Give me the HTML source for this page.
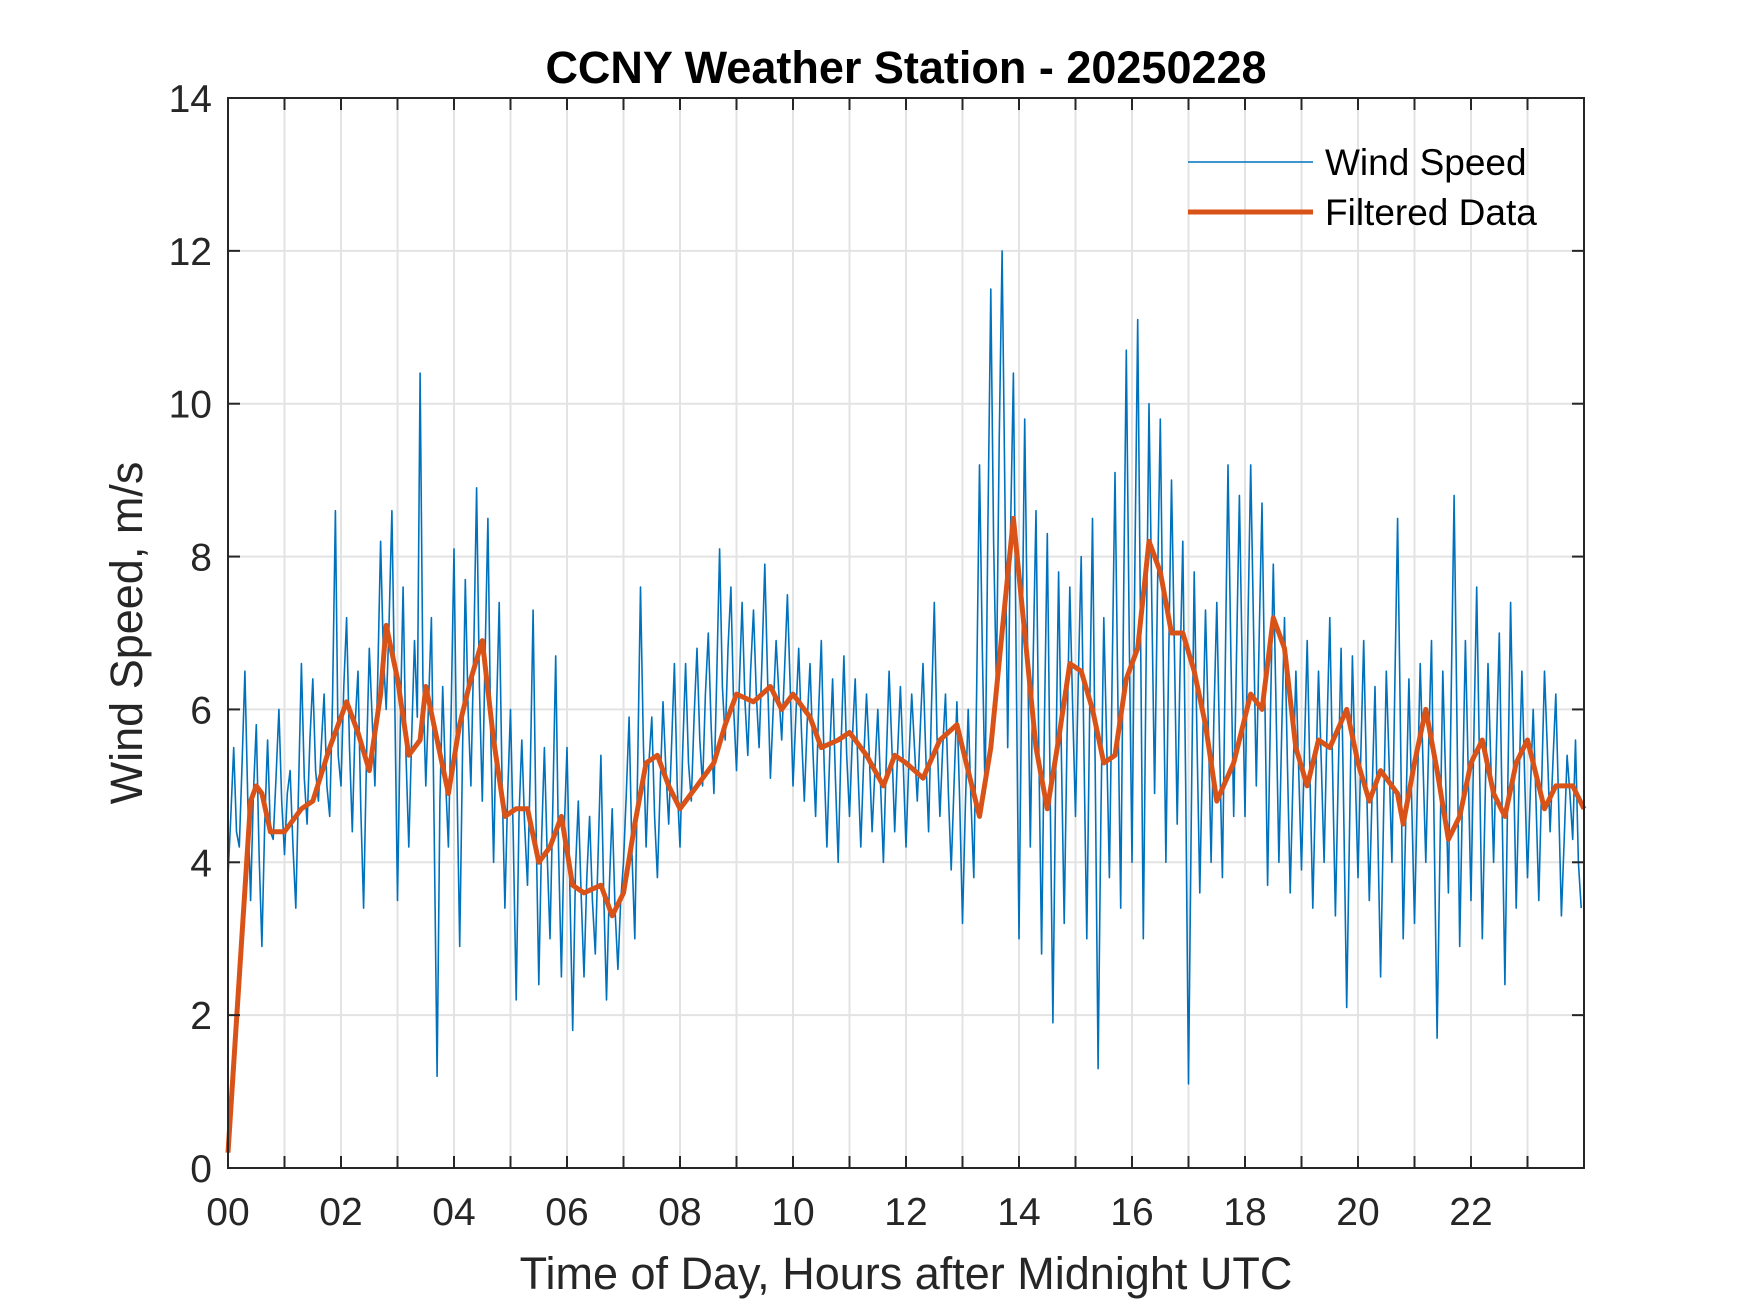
<!DOCTYPE html>
<html><head><meta charset="utf-8"><style>
html,body{margin:0;padding:0;background:#fff;}
svg{display:block;font-family:"Liberation Sans",Arial,sans-serif;}
</style></head><body>
<svg id="chart" width="1750" height="1313" viewBox="0 0 1750 1313" xmlns="http://www.w3.org/2000/svg">
<rect width="1750" height="1313" fill="#fff"/>
<g id="grid"></g>
<g id="series"></g>
<g id="axes"></g>
<text x="906" y="83" text-anchor="middle" font-size="45" font-weight="bold" fill="#000">CCNY Weather Station - 20250228</text>
<text x="906" y="1289" text-anchor="middle" font-size="45" fill="#262626">Time of Day, Hours after Midnight UTC</text>
<text transform="translate(142,633) rotate(-90)" text-anchor="middle" font-size="45" fill="#262626">Wind Speed, m/s</text>
<g>
<line x1="1188" y1="162" x2="1313" y2="162" stroke="#0072BD" stroke-width="1.5"/>
<text x="1325" y="175" font-size="37" fill="#000">Wind Speed</text>
<line x1="1188" y1="212" x2="1313" y2="212" stroke="#D95319" stroke-width="5"/>
<text x="1325" y="225" font-size="37" fill="#000">Filtered Data</text>
</g>
</svg>
<script>
const xTickLabels = ["00","02","04","06","08","10","12","14","16","18","20","22"];
const yTickValues = [0,2,4,6,8,10,12,14];
const rawStep = 0.05;
const rawValues = [
3.8,4.6,5.5,4.4,4.2,5.3,6.5,4.8,3.5,4.9,5.8,4.1,2.9,4.5,5.6,4.4,4.3,5.1,6.0,4.8,
4.1,4.9,5.2,4.2,3.4,5.0,6.6,5.1,4.5,5.6,6.4,5.2,4.8,5.5,6.2,5.0,4.6,6.1,8.6,5.4,
5.0,6.3,7.2,5.5,4.4,5.8,6.5,4.7,3.4,5.3,6.8,5.9,5.0,6.4,8.2,6.7,6.0,7.1,8.6,6.2,
3.5,5.8,7.6,5.4,4.2,5.6,6.9,5.9,10.4,6.4,5.0,6.1,7.2,4.4,1.2,4.8,6.3,5.1,4.2,6.0,
8.1,5.2,2.9,5.4,7.7,6.0,5.0,6.8,8.9,6.3,4.8,6.7,8.5,5.7,4.0,5.9,7.4,5.1,3.4,4.9,
6.0,4.3,2.2,4.6,5.6,4.5,3.7,5.2,7.3,4.6,2.4,4.3,5.5,4.1,3.0,4.8,6.7,4.2,2.5,4.4,
5.5,3.7,1.8,3.9,4.8,3.6,2.5,3.8,4.6,3.5,2.8,4.1,5.4,3.6,2.2,3.7,4.7,3.4,2.6,3.5,
4.0,4.9,5.9,4.1,3.0,5.2,7.6,5.6,4.2,5.3,5.9,4.6,3.8,5.0,6.1,5.2,4.5,5.5,6.6,5.0,
4.2,5.5,6.6,5.3,4.8,5.9,6.8,5.6,5.0,6.2,7.0,5.8,4.9,6.4,8.1,6.3,5.6,6.8,7.6,6.0,
5.2,6.3,7.4,6.1,5.4,6.5,7.3,6.2,5.5,6.6,7.9,6.4,5.1,6.0,6.9,6.2,5.6,6.5,7.5,6.3,
5.0,5.9,6.8,5.7,4.8,5.8,6.6,5.5,4.6,5.9,6.9,5.3,4.2,5.4,6.4,5.1,4.0,5.5,6.7,5.4,
4.6,5.6,6.4,5.2,4.2,5.3,6.2,5.4,4.4,5.2,6.0,5.0,4.0,5.3,6.5,5.5,4.4,5.4,6.3,5.3,
4.2,5.3,6.2,5.5,4.8,5.7,6.6,5.4,4.4,6.0,7.4,5.6,4.6,5.5,6.2,4.9,3.9,5.0,6.1,4.8,
3.2,4.7,6.0,4.8,3.8,6.2,9.2,6.8,4.9,8.4,11.5,8.2,6.3,9.5,12.0,8.8,5.5,8.3,10.4,6.6,
3.0,6.5,9.8,6.9,4.2,6.6,8.6,5.5,2.8,5.8,8.3,5.0,1.9,5.1,7.8,5.4,3.2,5.6,7.6,6.0,
4.6,6.4,8.0,5.4,3.0,5.9,8.5,5.1,1.3,4.6,7.2,5.6,3.8,6.5,9.1,6.1,3.4,7.3,10.7,7.0,
4.0,7.8,11.1,7.1,3.0,6.6,10.0,7.4,4.9,7.5,9.8,6.8,4.0,6.7,9.0,6.8,4.5,6.5,8.2,5.0,
1.1,4.6,7.8,5.6,3.6,5.5,7.3,5.8,4.0,5.9,7.4,5.5,3.8,6.5,9.2,6.7,4.6,6.7,8.8,6.6,
4.6,7.0,9.2,7.1,5.0,6.9,8.7,6.2,3.7,5.9,7.9,6.0,4.0,5.7,7.2,5.3,3.6,5.1,6.5,5.2,
3.9,5.4,6.9,5.1,3.4,5.0,6.5,5.3,4.0,5.7,7.2,5.2,3.3,5.1,6.8,4.5,2.1,4.4,6.7,5.2,
3.8,5.4,6.9,5.1,3.5,4.9,6.3,4.4,2.5,4.5,6.5,5.3,4.0,6.2,8.5,5.8,3.0,4.7,6.4,4.8,
3.2,4.9,6.6,5.3,4.0,5.5,6.9,4.3,1.7,4.1,6.5,5.1,3.6,6.2,8.8,5.9,2.9,4.9,6.9,5.2,
3.5,5.6,7.6,5.3,3.0,4.8,6.6,5.3,4.0,5.5,7.0,4.7,2.4,4.9,7.4,5.4,3.4,5.0,6.5,5.1,
3.8,4.9,6.0,4.8,3.5,5.0,6.5,5.5,4.4,5.3,6.2,4.8,3.3,4.3,5.4,4.9,4.3,5.6,4.0,3.4];
const filtTimes = [0,0.2,0.4,0.5,0.6,0.75,1,1.3,1.5,1.8,2,2.1,2.3,2.5,2.7,2.8,3,3.2,3.4,3.5,3.7,3.9,4.1,4.3,4.5,4.7,4.9,5.1,5.3,5.5,5.7,5.9,6.1,6.3,6.6,6.8,7.0,7.2,7.4,7.6,7.8,8,8.3,8.6,8.8,9,9.3,9.6,9.8,10,10.3,10.5,10.8,11,11.3,11.6,11.8,12,12.3,12.6,12.9,13.1,13.3,13.5,13.7,13.9,14.1,14.3,14.5,14.7,14.9,15.1,15.3,15.5,15.7,15.9,16.1,16.3,16.5,16.7,16.9,17.1,17.3,17.5,17.8,18.1,18.3,18.5,18.7,18.9,19.1,19.3,19.5,19.8,20,20.2,20.4,20.7,20.8,21,21.2,21.4,21.6,21.8,22,22.2,22.4,22.6,22.8,23,23.3,23.5,23.8,24];
const filtValues = [0.2,2.5,4.8,5.0,4.9,4.4,4.4,4.7,4.8,5.5,5.9,6.1,5.7,5.2,6.2,7.1,6.4,5.4,5.6,6.3,5.6,4.9,5.8,6.4,6.9,5.6,4.6,4.7,4.7,4.0,4.2,4.6,3.7,3.6,3.7,3.3,3.6,4.5,5.3,5.4,5.0,4.7,5.0,5.3,5.8,6.2,6.1,6.3,6.0,6.2,5.9,5.5,5.6,5.7,5.4,5.0,5.4,5.3,5.1,5.6,5.8,5.2,4.6,5.5,7.0,8.5,7.0,5.5,4.7,5.6,6.6,6.5,6.0,5.3,5.4,6.4,6.8,8.2,7.8,7.0,7.0,6.5,5.8,4.8,5.3,6.2,6.0,7.2,6.8,5.5,5.0,5.6,5.5,6.0,5.3,4.8,5.2,4.9,4.5,5.3,6.0,5.2,4.3,4.6,5.3,5.6,4.9,4.6,5.3,5.6,4.7,5.0,5.0,4.7];

const L=228,R=1584,T=98,B=1168,XMAX=24,YMAX=14;
const xs=t=>L+(t/XMAX)*(R-L);
const ys=v=>B-(v/YMAX)*(B-T);
const NS="http://www.w3.org/2000/svg";
function mk(tag,parent){const e=document.createElementNS(NS,tag);parent.appendChild(e);return e;}
const grid=document.getElementById('grid'),axes=document.getElementById('axes'),series=document.getElementById('series');

for(let h=1;h<24;h++){
  const g=mk('line',grid);
  
  
  g.setAttribute('x1',xs(h));g.setAttribute('x2',xs(h));g.setAttribute('y1',T);g.setAttribute('y2',B);
  g.setAttribute('stroke','#e3e3e3');g.setAttribute('stroke-width','2');
  for(const [y0,y1] of [[B,B-12],[T,T+12]]){
    const tk=mk('line',axes);
    
    
    tk.setAttribute('x1',xs(h));tk.setAttribute('x2',xs(h));tk.setAttribute('y1',y0);tk.setAttribute('y2',y1);
    tk.setAttribute('stroke','#262626');tk.setAttribute('stroke-width','2');
  }
}
yTickValues.forEach(v=>{
  if(v>0&&v<YMAX){
    const g=mk('line',grid);
    
    
    g.setAttribute('x1',L);g.setAttribute('x2',R);g.setAttribute('y1',ys(v));g.setAttribute('y2',ys(v));
    g.setAttribute('stroke','#e3e3e3');g.setAttribute('stroke-width','2');
    for(const [x0,x1] of [[L,L+12],[R,R-12]]){
      const tk=mk('line',axes);
      
      
      tk.setAttribute('x1',x0);tk.setAttribute('x2',x1);tk.setAttribute('y1',ys(v));tk.setAttribute('y2',ys(v));
      tk.setAttribute('stroke','#262626');tk.setAttribute('stroke-width','2');
    }
  }
  const t=mk('text',axes);
  
  
  t.setAttribute('x',L-16);t.setAttribute('y',ys(v)+14);t.setAttribute('text-anchor','end');
  t.setAttribute('font-size','39');t.setAttribute('fill','#262626');t.textContent=v;
});
xTickLabels.forEach((lab,i)=>{
  const t=mk('text',axes);
  
  
  t.setAttribute('x',xs(i*2));t.setAttribute('y',B+57);t.setAttribute('text-anchor','middle');
  t.setAttribute('font-size','39');t.setAttribute('fill','#262626');t.textContent=lab;
});
const box=mk('rect',axes);


box.setAttribute('x',L);box.setAttribute('y',T);box.setAttribute('width',R-L);box.setAttribute('height',B-T);
box.setAttribute('fill','none');box.setAttribute('stroke','#262626');box.setAttribute('stroke-width','2');

const raw=mk('polyline',series);


raw.setAttribute('points',rawValues.map((v,i)=>xs(i*rawStep).toFixed(1)+','+ys(v).toFixed(1)).join(' '));
raw.setAttribute('fill','none');raw.setAttribute('stroke','#0072BD');raw.setAttribute('stroke-width','1.6');raw.setAttribute('stroke-linejoin','round');

const flt=mk('polyline',series);


flt.setAttribute('points',filtValues.map((v,i)=>xs(filtTimes[i]).toFixed(1)+','+ys(v).toFixed(1)).join(' '));
flt.setAttribute('fill','none');flt.setAttribute('stroke','#D95319');flt.setAttribute('stroke-width','5');flt.setAttribute('stroke-linejoin','round');
</script>
</body></html>
